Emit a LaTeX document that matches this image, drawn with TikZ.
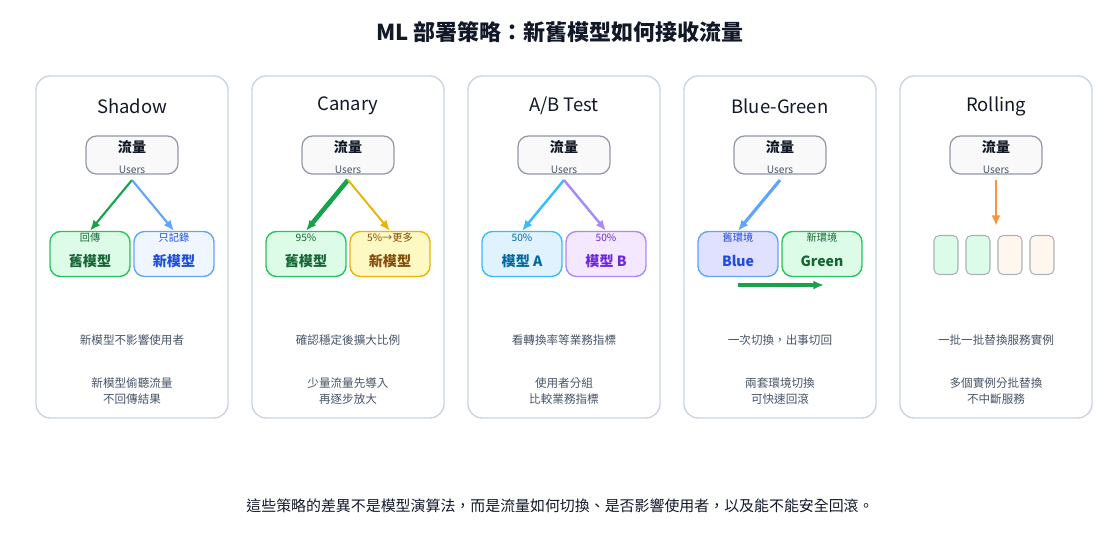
\documentclass[tikz,border=0pt]{standalone}
\usepackage{fontspec}
\setmainfont{Noto Sans CJK TC}
\usetikzlibrary{positioning,arrows.meta}
\definecolor{cardline}{HTML}{CBD5E1}
\definecolor{ink}{HTML}{111827}
\definecolor{soft}{HTML}{475569}
\definecolor{gfill}{HTML}{DCFCE7}\definecolor{gline}{HTML}{22C55E}\definecolor{gtext}{HTML}{166534}
\definecolor{bfill}{HTML}{EFF6FF}\definecolor{bline}{HTML}{60A5FA}\definecolor{btext}{HTML}{1D4ED8}
\definecolor{yfill}{HTML}{FEF9C3}\definecolor{yline}{HTML}{EAB308}\definecolor{ytext}{HTML}{854D0E}
\definecolor{cfill}{HTML}{E0F2FE}\definecolor{cline}{HTML}{38BDF8}\definecolor{ctext}{HTML}{0369A1}
\definecolor{pfill}{HTML}{F3E8FF}\definecolor{pline}{HTML}{A78BFA}\definecolor{ptext}{HTML}{6D28D9}
\definecolor{ofill}{HTML}{FFF7ED}\definecolor{oline}{HTML}{FB923C}
\definecolor{arrowg}{HTML}{16A34A}
\newcommand{\px}{*0.02cm}

\tikzset{
  card/.style={draw=cardline, line width=0.8pt, rounded corners=8pt, fill=white},
  traffic/.style={draw=soft!60, fill=gray!5, rounded corners=6pt, minimum width=92\px, minimum height=38\px, line width=0.7pt},
  model/.style={rounded corners=6pt, minimum width=80\px, minimum height=45\px, line width=0.8pt},
  slot/.style={draw=soft!45, rounded corners=3pt, minimum width=24\px, minimum height=39\px, line width=0.6pt},
  head/.style={font=\fontsize{10.5}{12}\selectfont, text=ink},
  note/.style={font=\fontsize{6.6}{9}\selectfont, text=soft, align=center},
  tag/.style={font=\fontsize{5.8}{7}\selectfont},
  flow/.style={-{Latex[length=6pt,width=5pt]}, line width=1.4pt}
}

\begin{document}
\begin{tikzpicture}[x=0.02cm,y=-0.02cm]
  \useasboundingbox (0,0) rectangle (1120,560);
  \node[font=\fontsize{12.5}{14}\selectfont\bfseries, text=ink] (title) at (560,32) {ML 部署策略：新舊模型如何接收流量};

  % cards and traffic sources
  \foreach \cx/\name [count=\i] in {132/Shadow,348/Canary,564/{A/B Test},780/Blue-Green,996/Rolling} {
    \draw[card] (\cx-96,76) rectangle (\cx+96,418);
    \node[head] (h\i) at (\cx,106) {\name};
    \node[traffic] (src\i) at (\cx,155) {};
    \node[font=\fontsize{8}{9}\selectfont\bfseries, text=ink] at (\cx,147) {流量};
    \node[tag, text=soft] (u\i) at (\cx,170) {Users};
  }

  % Shadow
  \node[model, draw=gline, fill=gfill] (old1) at (90,254) {};
  \node[model, draw=bline, fill=bfill] (new1) at (174,254) {};
  \draw[flow, arrowg, line width=1.2pt] (u1.south) -- (old1.north);
  \draw[flow, bline, line width=1.2pt] (u1.south) -- (new1.north);

  % Canary
  \node[model, draw=gline, fill=gfill] (old2) at (306,254) {};
  \node[model, draw=yline, fill=yfill] (new2) at (390,254) {};
  \draw[flow, arrowg, line width=2.6pt] (u2.south) -- (old2.north);
  \draw[flow, yline, line width=1.1pt] (u2.south) -- (new2.north);

  % A/B Test
  \node[model, draw=cline, fill=cfill] (mA) at (522,254) {};
  \node[model, draw=pline, fill=pfill] (mB) at (606,254) {};
  \draw[flow, cline] (u3.south) -- (mA.north);
  \draw[flow, pline] (u3.south) -- (mB.north);

  % Blue-Green
  \node[model, draw=bline, fill=blue!12] (blue) at (738,254) {};
  \node[model, draw=gline, fill=gfill] (green) at (822,254) {};
  \draw[flow, bline, line width=1.8pt] (u4.south) -- (blue.north);
  \coordinate (sw1) at (738,285);
  \coordinate (sw2) at (824,285);
  \draw[flow, arrowg, line width=1.8pt] (sw1) -- (sw2);

  % Rolling
  \node[slot, fill=gfill] (r1) at (946,255) {};
  \node[slot, fill=gfill] (r2) at (978,255) {};
  \node[slot, fill=ofill] (r3) at (1010,255) {};
  \node[slot, fill=ofill] (r4) at (1042,255) {};
  \coordinate (rt) at (996,226);
  \draw[flow, oline, line width=1.4pt] (u5.south) -- (rt);

  % model labels
  \foreach \n/\main/\sub/\col in {old1/舊模型/回傳/gtext, new1/新模型/只記錄/btext,
      old2/舊模型/95\%/gtext, new2/新模型/5\%→更多/ytext,
      mA/模型 A/50\%/ctext, mB/模型 B/50\%/ptext,
      blue/Blue/舊環境/btext, green/Green/新環境/gtext} {
    \node[font=\fontsize{8}{9}\selectfont\bfseries, text=\col] at ([yshift=-7\px]\n.center) {\main};
    \node[tag, text=\col] at ([yshift=16\px]\n.center) {\sub};
  }

  % notes
  \foreach \cx/\a/\b [count=\i] in {
      132/新模型不影響使用者/新模型偷聽流量\\不回傳結果,
      348/確認穩定後擴大比例/少量流量先導入\\再逐步放大,
      564/看轉換率等業務指標/使用者分組\\比較業務指標,
      780/一次切換，出事切回/兩套環境切換\\可快速回滾,
      996/一批一批替換服務實例/多個實例分批替換\\不中斷服務} {
    \node[note] (n\i) at (\cx,340) {\a};
    \node[note] (m\i) at (\cx,391) {\b};
  }

  \node[font=\fontsize{8.5}{10}\selectfont, text=ink] (foot) at (560,506)
    {這些策略的差異不是模型演算法，而是流量如何切換、是否影響使用者，以及能不能安全回滾。};
\end{tikzpicture}
\end{document}
